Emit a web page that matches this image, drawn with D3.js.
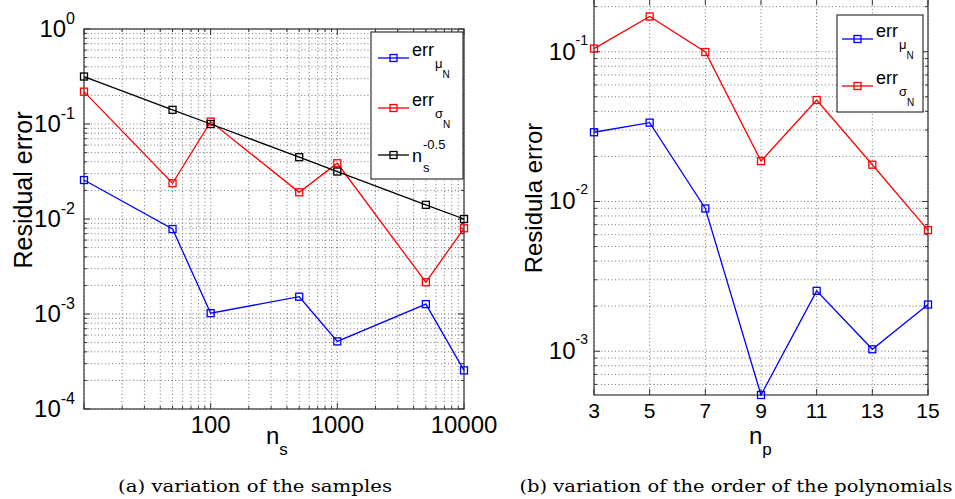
<!DOCTYPE html>
<html>
<head>
<meta charset="utf-8">
<script src="https://cdn.jsdelivr.net/npm/d3@7"></script>
<style>
  body { margin: 0; background: #fff; }
  svg { display: block; }
  text { font-family: "Liberation Sans", Arial, Helvetica, sans-serif; fill: #000; }
  .caption { font-family: "DejaVu Serif", "Liberation Serif", serif; }
</style>
</head>
<body>
<svg id="chart" width="955" height="499"></svg>
<script>
// (a) variation of the samples
var samples = [10, 50, 100, 500, 1000, 5000, 10000];
var errMuSamples = [0.0257, 0.00785, 0.00102, 0.00152, 0.000515, 0.00127, 0.000255];
var errSigmaSamples = [0.219, 0.0238, 0.106, 0.0191, 0.0386, 0.00216, 0.00798];
var refSamples = [0.316, 0.141, 0.1, 0.0447, 0.0316, 0.0141, 0.01];
var samplesXTicks = [100, 1000, 10000];
var samplesYTicks = [1, 0.1, 0.01, 0.001, 0.0001];
var samplesYExp = ["0", "-1", "-2", "-3", "-4"];

// (b) variation of the order of the polynomials
var orders = [3, 5, 7, 9, 11, 13, 15];
var errMuOrders = [0.029, 0.0336, 0.00898, 0.00051, 0.00253, 0.00103, 0.00205];
var errSigmaOrders = [0.105, 0.172, 0.0995, 0.0186, 0.0476, 0.0176, 0.00644];
var ordersXTicks = [3, 5, 7, 9, 11, 13, 15];
var ordersYTicks = [0.1, 0.01, 0.001];
var ordersYExp = ["-1", "-2", "-3"];

var svg = d3.select("#chart");
var gridColor = "#555";

function logMinors(domain) {
  var lo = Math.floor(Math.log10(domain[0])), hi = Math.ceil(Math.log10(domain[1]));
  var out = [];
  for (var e = lo; e <= hi; e++) {
    for (var k = 1; k <= 9; k++) {
      var v = k * Math.pow(10, e);
      if (v >= domain[0] * 0.999 && v <= domain[1] * 1.001) out.push({v: v, major: k === 1});
    }
  }
  return out;
}

function drawPanel(cfg) {
  var g = svg.append("g");
  var x = cfg.x, y = cfg.y;
  var x0 = x.range()[0], x1 = x.range()[1], y0 = y.range()[0], y1 = y.range()[1];

  var xt = cfg.xLog ? logMinors(x.domain()) : cfg.xTicks.map(function(v) { return {v: v, major: true}; });
  var yt = logMinors(y.domain());

  // dotted grid
  g.selectAll(".gx").data(xt).enter().append("line")
    .attr("x1", function(d) { return x(d.v); }).attr("x2", function(d) { return x(d.v); })
    .attr("y1", y0).attr("y2", y1)
    .attr("stroke", gridColor).attr("stroke-width", 0.8).attr("stroke-dasharray", "1,2.5");
  g.selectAll(".gy").data(yt).enter().append("line")
    .attr("y1", function(d) { return y(d.v); }).attr("y2", function(d) { return y(d.v); })
    .attr("x1", x0).attr("x2", x1)
    .attr("stroke", gridColor).attr("stroke-width", 0.8).attr("stroke-dasharray", "1,2.5");

  // ticks inside on all sides
  g.selectAll(".tx").data(xt).enter().append("path")
    .attr("d", function(d) {
      var L = d.major ? 6 : 3, px = x(d.v);
      return "M" + px + "," + y0 + "v" + (-L) + "M" + px + "," + y1 + "v" + L;
    })
    .attr("stroke", "#333").attr("stroke-width", 1);
  g.selectAll(".ty").data(yt).enter().append("path")
    .attr("d", function(d) {
      var L = d.major ? 6 : 3, py = y(d.v);
      return "M" + x0 + "," + py + "h" + L + "M" + x1 + "," + py + "h" + (-L);
    })
    .attr("stroke", "#333").attr("stroke-width", 1);

  g.append("rect")
    .attr("x", x0).attr("y", y1).attr("width", x1 - x0).attr("height", y0 - y1)
    .attr("fill", "none").attr("stroke", "#333").attr("stroke-width", 1.2);

  // tick labels
  g.selectAll(".xl").data(cfg.xLabels).enter().append("text")
    .attr("x", function(d) { return x(d); }).attr("y", y0 + cfg.xLabelDy)
    .attr("text-anchor", "middle").attr("font-size", cfg.xLabelSize)
    .text(function(d) { return d; });
  cfg.yTicks.forEach(function(v, i) {
    var t = g.append("text").attr("x", x0 - cfg.yLabelGap).attr("y", y(v) + 8)
      .attr("text-anchor", "end").attr("font-size", 24);
    t.append("tspan").text("10");
    t.append("tspan").attr("dy", cfg.supDy).attr("font-size", cfg.supSize).text(cfg.yExp[i]);
  });

  // series
  cfg.series.forEach(function(s) {
    var pts = cfg.xs.map(function(d, i) { return [d, s.values[i]]; });
    g.append("path").datum(pts)
      .attr("fill", "none").attr("stroke", s.color).attr("stroke-width", 1.3)
      .attr("d", d3.line().x(function(d) { return x(d[0]); }).y(function(d) { return y(d[1]); }));
    g.selectAll(null).data(pts).enter().append("rect")
      .attr("x", function(d) { return x(d[0]) - 3.5; }).attr("y", function(d) { return y(d[1]) - 3.5; })
      .attr("width", 7).attr("height", 7)
      .attr("fill", "none").attr("stroke", s.color).attr("stroke-width", 1.3);
  });

  // axis labels
  g.append("text")
    .attr("transform", "translate(" + cfg.yTitlePos[0] + "," + cfg.yTitlePos[1] + ") rotate(-90)")
    .attr("text-anchor", "middle").attr("font-size", cfg.yTitleSize).text(cfg.yTitle);
  var xl = g.append("text").attr("x", cfg.xTitlePos[0]).attr("y", cfg.xTitlePos[1])
    .attr("font-size", 24);
  xl.append("tspan").text("n");
  xl.append("tspan").attr("dy", 11).attr("font-size", 17).text(cfg.xSub);

  g.append("text").attr("class", "caption")
    .attr("x", cfg.captionPos[0]).attr("y", cfg.captionPos[1])
    .attr("text-anchor", "middle").attr("font-size", 17)
    .attr("textLength", cfg.captionWidth).attr("lengthAdjust", "spacingAndGlyphs")
    .text(cfg.caption);

  drawLegend(g, cfg.legend);
}

function drawLegend(g, lg) {
  g.append("rect")
    .attr("x", lg.box[0]).attr("y", lg.box[1]).attr("width", lg.box[2]).attr("height", lg.box[3])
    .attr("fill", "#fff").attr("stroke", "#333").attr("stroke-width", 1.2);
  lg.items.forEach(function(it) {
    g.append("line").attr("x1", lg.lineX[0]).attr("x2", lg.lineX[1]).attr("y1", it.y).attr("y2", it.y)
      .attr("stroke", it.color).attr("stroke-width", 1.3);
    g.append("rect").attr("x", (lg.lineX[0] + lg.lineX[1]) / 2 - 3.5).attr("y", it.y - 3.5)
      .attr("width", 7).attr("height", 7).attr("fill", "none").attr("stroke", it.color).attr("stroke-width", 1.3);
    var tx = lg.lineX[1] + 3;
    if (it.kind === "err") {
      var m = g.append("text").attr("x", tx).attr("y", it.y - 2).attr("font-size", 18).text("err");
      var w = m.node().getComputedTextLength();
      var s1 = g.append("text").attr("x", tx + w + 1).attr("y", it.y + 10).attr("font-size", 13).text(it.sub);
      var w1 = s1.node().getComputedTextLength();
      g.append("text").attr("x", tx + w + w1 + 1).attr("y", it.y + 20).attr("font-size", 10).text("N");
    } else {
      var n = g.append("text").attr("x", tx).attr("y", it.y + 7).attr("font-size", 18).text("n");
      var wn = n.node().getComputedTextLength();
      g.append("text").attr("x", tx + wn + 1).attr("y", it.y - 6).attr("font-size", 13).text("-0.5");
      g.append("text").attr("x", tx + wn + 1).attr("y", it.y + 17).attr("font-size", 13).text("s");
    }
  });
}

drawPanel({
  x: d3.scaleLog().domain([10, 10000]).range([84, 464]),
  y: d3.scaleLog().domain([1e-4, 1]).range([409, 29]),
  xLog: true,
  xs: samples,
  xLabels: samplesXTicks,
  xLabelDy: 24, xLabelSize: 24,
  yTicks: samplesYTicks, yExp: samplesYExp, yLabelGap: 9, supDy: -13, supSize: 16,
  series: [
    {values: errMuSamples, color: "#0000ff"},
    {values: errSigmaSamples, color: "#ff0000"},
    {values: refSamples, color: "#000000"}
  ],
  yTitle: "Residual error", yTitleSize: 25, yTitlePos: [32, 190],
  xTitlePos: [266, 444], xSub: "s",
  caption: "(a) variation of the samples", captionPos: [255, 492], captionWidth: 274,
  legend: {
    box: [371, 32, 92, 147], lineX: [378, 409],
    items: [
      {kind: "err", sub: "\u03bc", color: "#0000ff", y: 58},
      {kind: "err", sub: "\u03c3", color: "#ff0000", y: 108},
      {kind: "n", color: "#000000", y: 155}
    ]
  }
});

drawPanel({
  x: d3.scaleLinear().domain([3, 15]).range([594, 928]),
  y: d3.scaleLog().domain([5.1e-4, 0.225]).range([395, -1]),
  xLog: false,
  xTicks: ordersXTicks,
  xs: orders,
  xLabels: ordersXTicks,
  xLabelDy: 23, xLabelSize: 21,
  yTicks: ordersYTicks, yExp: ordersYExp, yLabelGap: 6, supDy: -15, supSize: 14,
  series: [
    {values: errMuOrders, color: "#0000ff"},
    {values: errSigmaOrders, color: "#ff0000"}
  ],
  yTitle: "Residula error", yTitleSize: 24, yTitlePos: [542, 198],
  xTitlePos: [749, 444], xSub: "p",
  caption: "(b) variation of the order of the polynomials", captionPos: [736, 492], captionWidth: 433,
  legend: {
    box: [837, 15, 86, 97], lineX: [842, 873],
    items: [
      {kind: "err", sub: "\u03bc", color: "#0000ff", y: 39},
      {kind: "err", sub: "\u03c3", color: "#ff0000", y: 86}
    ]
  }
});
</script>
</body>
</html>
